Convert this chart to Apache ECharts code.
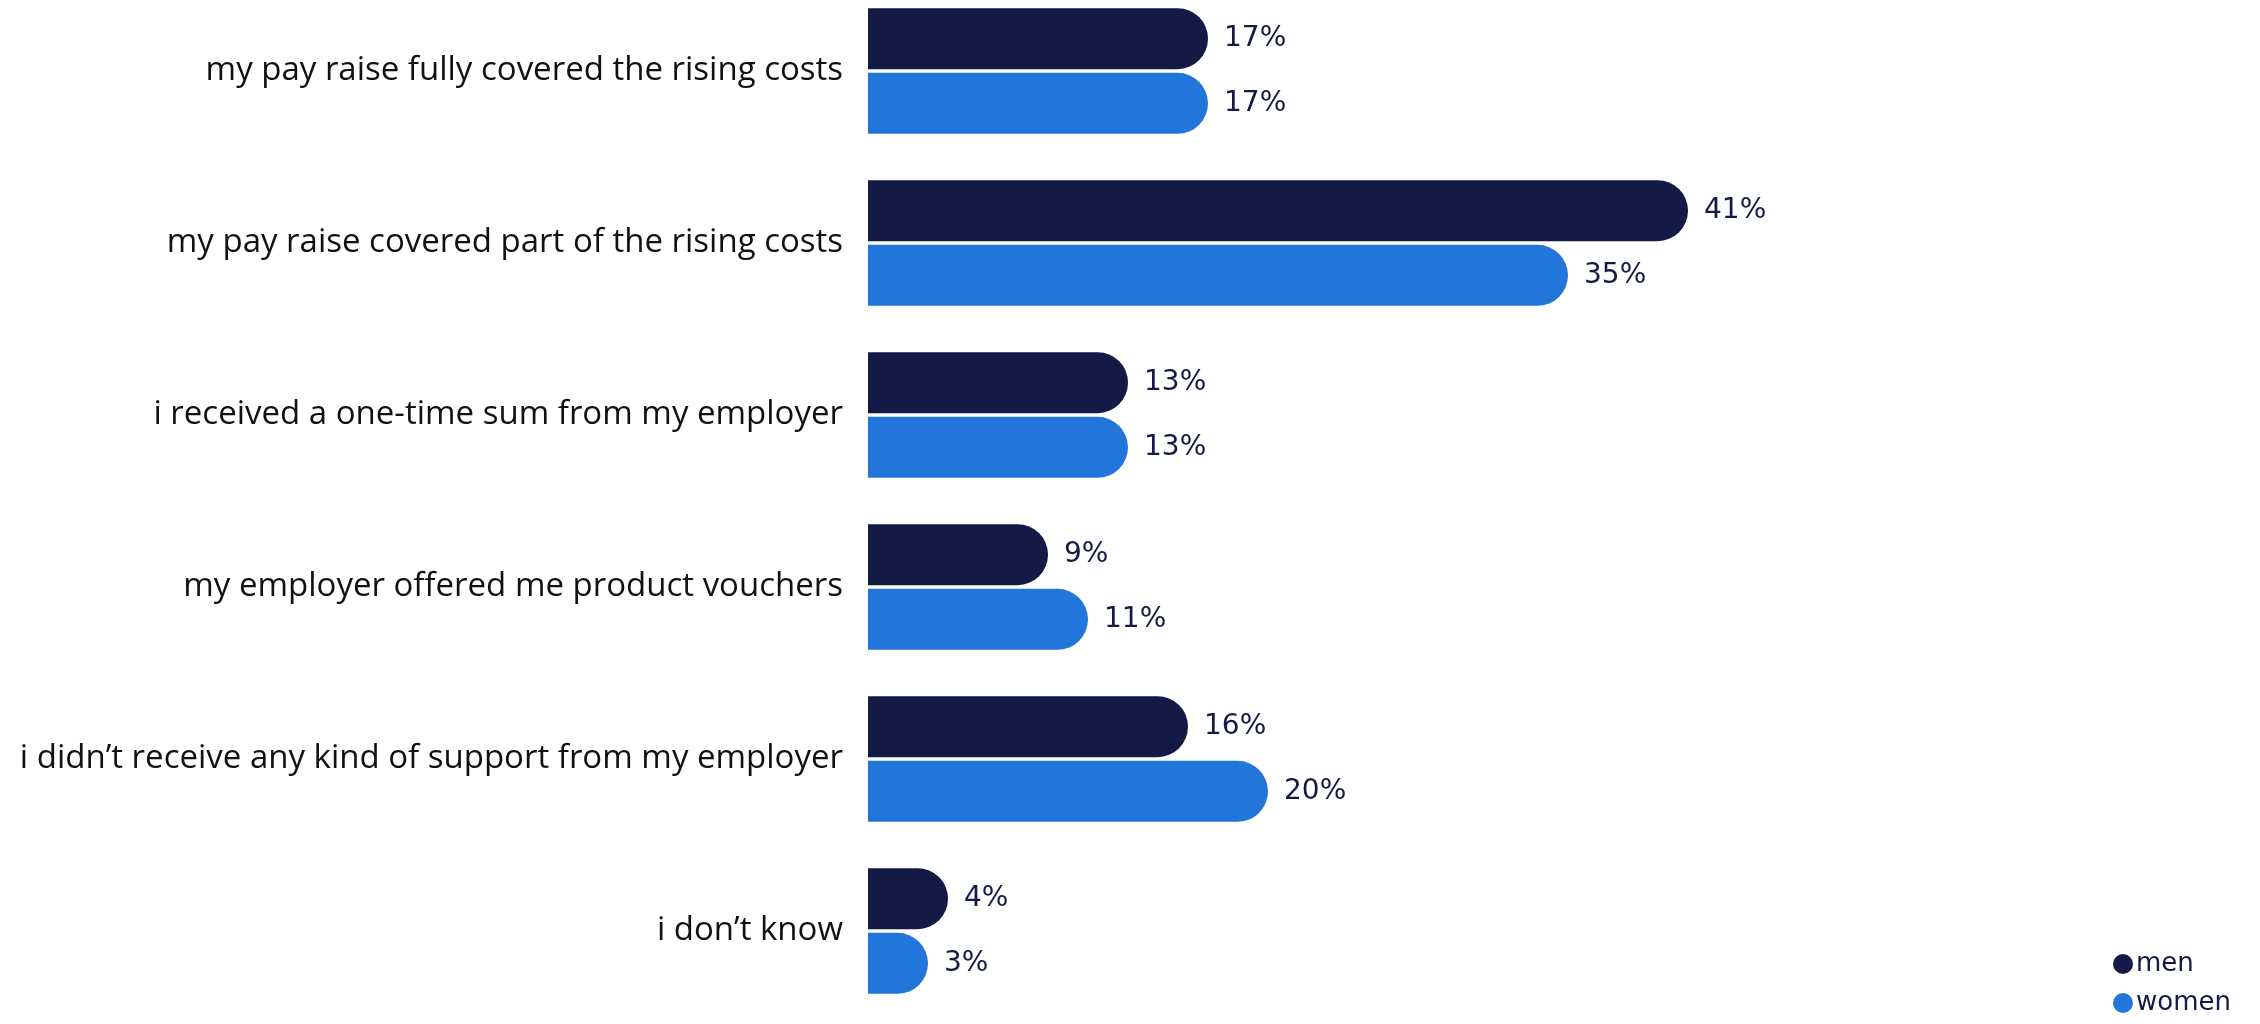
<!DOCTYPE html>
<html>
<head>
<meta charset="utf-8">
<script src="https://cdn.jsdelivr.net/npm/echarts@6/dist/echarts.min.js"></script>
<style>
  html, body { margin: 0; padding: 0; background: #ffffff; }
  #chart { width: 2260px; height: 1024px; }
</style>
</head>
<body>
<div id="chart"></div>
<script>
// Survey answers about how employers helped with rising costs, by gender (%)
const categories = [
  'my pay raise fully covered the rising costs',
  'my pay raise covered part of the rising costs',
  'i received a one-time sum from my employer',
  'my employer offered me product vouchers',
  'i didn\u2019t receive any kind of support from my employer',
  'i don\u2019t know'
];
const menValues = [17, 41, 13, 9, 16, 4];
const womenValues = [17, 35, 13, 11, 20, 3];
const seriesNames = ['men', 'women'];

const NAVY = '#121a45';
const BLUE = '#2276d9';

const chart = echarts.init(document.getElementById('chart'), null, { renderer: 'canvas' });

function barSeries(name, values, color) {
  return {
    name: name,
    type: 'bar',
    data: values,
    clip: false,
    barWidth: 61,
    barGap: '6%',
    itemStyle: { color: color, borderRadius: [0, 31, 31, 0] },
    label: {
      show: true,
      position: 'right',
      distance: 16,
      formatter: '{c}%',
      color: NAVY,
      fontFamily: 'DejaVu Sans',
      fontSize: 28
    },
    emphasis: { disabled: true }
  };
}

chart.setOption({
  animation: false,
  backgroundColor: '#ffffff',
  // categories sit on the ticks, first at the grid top and last at the bottom
  grid: { left: 868, top: 71, width: 1000, height: 860, containLabel: false },
  xAxis: {
    type: 'value',
    min: 0,
    max: 50,
    show: false
  },
  yAxis: {
    type: 'category',
    data: categories,
    inverse: true,
    boundaryGap: false,
    axisLine: { show: false },
    axisTick: { show: false },
    splitLine: { show: false },
    axisLabel: {
      margin: 25,
      color: '#111111',
      fontFamily: 'Open Sans',
      fontSize: 33
    }
  },
  legend: {
    data: seriesNames,
    orient: 'vertical',
    left: 2108,
    top: 946,
    icon: 'circle',
    itemWidth: 20,
    itemHeight: 20,
    itemGap: 13,
    textStyle: { color: NAVY, fontFamily: 'DejaVu Sans', fontSize: 26, padding: [0, 0, 0, -2] }
  },
  series: [
    barSeries(seriesNames[0], menValues, NAVY),
    barSeries(seriesNames[1], womenValues, BLUE)
  ]
});
</script>
</body>
</html>
